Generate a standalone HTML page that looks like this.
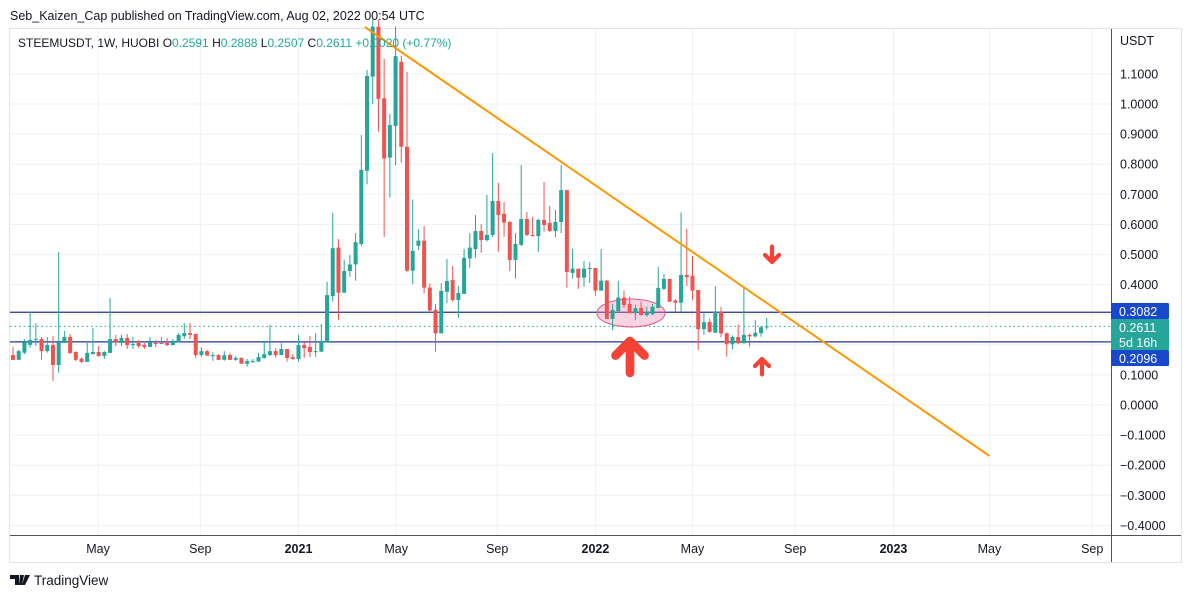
<!DOCTYPE html>
<html><head><meta charset="utf-8">
<style>
body{margin:0;background:#fff;width:1192px;height:598px;overflow:hidden;font-family:"Liberation Sans",sans-serif;}
svg{position:absolute;left:0;top:0;}
</style></head>
<body>
<svg id="chart" width="1192" height="598" xmlns="http://www.w3.org/2000/svg"></svg>
<script>
const opens=[.166,.150,.174,.200,.216,.219,.179,.199,.133,.206,.226,.176,.154,.143,.169,.176,.163,.173,.219,.206,.223,.199,.206,.199,.193,.206,.206,.206,.199,.209,.229,.239,.236,
.166,.179,.164,.166,.150,.166,.150,.156,.137,.144,.144,.156,.166,.179,.166,.186,.159,.153,.199,.193,.177,.177,.209,
.362,.523,.373,.445,.467,.535,.778,1.091,1.257,1.019,.822,.927,1.140,.858,.446,.529,.546,.390,.316,.238,.376,
.415,.349,.369,.487,.518,.578,.548,.565,.678,.635,.608,.482,.532,.618,.565,.561,.615,.605,.578,.608,.714,.439,.453,.423,
.452,.455,.380,.413,.286,.312,.357,.336,.305,.322,.299,.302,.322,.386,.419,.347,.340,.432,.429,.382,.252,.276,.240,.309,.238,.202,.226,.205,.233,.228,.239,.2591];
const highs=[.194,.183,.219,.309,.272,.226,.226,.229,.508,.246,.236,.179,.158,.206,.256,.196,.179,.355,.233,.233,.236,.226,.216,.206,.226,.216,.226,.223,.219,.239,.272,.272,.236,
.192,.183,.175,.169,.179,.173,.162,.159,.153,.153,.173,.213,.266,.189,.205,.186,.169,.233,.208,.229,.239,.269,.409,
.639,.551,.482,.498,.571,.897,1.113,1.28,1.28,1.150,.966,1.257,1.160,1.107,.683,.584,.595,.404,.336,.404,.485,
.462,.395,.519,.571,.631,.601,.698,.837,.738,.674,.611,.571,.797,.641,.625,.618,.741,.661,.648,.797,.714,.519,.453,.479,
.475,.455,.518,.415,.336,.413,.380,.360,.333,.343,.327,.336,.459,.435,.419,.352,.640,.585,.495,.382,.305,.287,.395,.326,.242,.231,.268,.389,.238,.282,.262,.2888];
const lows=[.150,.150,.169,.190,.196,.150,.174,.080,.107,.206,.169,.146,.140,.143,.169,.160,.153,.173,.196,.196,.186,.186,.190,.186,.193,.193,.203,.196,.199,.209,.219,.219,.156,
.160,.164,.147,.150,.147,.150,.147,.137,.127,.140,.144,.154,.163,.157,.166,.144,.150,.144,.157,.160,.160,.177,.209,
.343,.282,.373,.426,.413,.528,.733,1.0,.908,.558,.689,.796,.805,.441,.401,.515,.371,.305,.177,.238,.338,
.343,.290,.369,.456,.489,.506,.543,.558,.509,.559,.445,.420,.528,.561,.561,.509,.576,.575,.558,.571,.390,.420,.386,.393,
.406,.363,.380,.286,.249,.310,.322,.305,.282,.297,.293,.299,.322,.382,.343,.310,.310,.395,.349,.183,.233,.240,.240,.225,.161,.185,.203,.205,.194,.225,.227,.2507];
const closes=[.150,.179,.209,.216,.219,.179,.199,.133,.209,.226,.173,.150,.143,.173,.176,.163,.176,.219,.209,.223,.199,.203,.196,.193,.209,.204,.204,.199,.213,.233,.239,.233,.166,
.179,.164,.166,.150,.165,.150,.156,.137,.146,.146,.159,.169,.179,.166,.186,.156,.153,.199,.189,.176,.179,.213,.365,
.521,.373,.445,.467,.541,.781,1.093,1.257,1.017,.819,.930,1.159,.858,.446,.512,.546,.390,.314,.238,.379,.412,
.349,.372,.489,.523,.578,.548,.565,.678,.631,.606,.482,.535,.618,.565,.561,.615,.598,.578,.608,.714,.442,.453,.423,.453,
.455,.380,.413,.286,.316,.357,.332,.305,.322,.299,.308,.326,.389,.419,.343,.340,.432,.425,.380,.252,.275,.243,.309,.238,.202,.226,.205,.233,.228,.240,.258,.2611];
const yTicks=[1.1,1.0,0.9,0.8,0.7,0.6,0.5,0.4,0.3,0.2,0.1,0.0,-0.1,-0.2,-0.3,-0.4];
const xTickLabels=["May","Sep","2021","May","Sep","2022","May","Sep","2023","May","Sep"];
const xTickWeeks=[14.9,32.8,50.0,67.1,84.8,102.0,119.0,137.0,154.2,171.0,189.0];
const trendWeeks=[61.6,171];
const trendValues=[1.256,-0.169];
const levelValues=[0.3082,0.2096];
const lastPrice=0.2611;

const NS="http://www.w3.org/2000/svg";
const svg=document.getElementById('chart');
const X=i=>13+i*5.71;
const Y=v=>405-v*301;
function mk(tag,attrs,parent){const e=document.createElementNS(NS,tag);for(const k in attrs)e.setAttribute(k,attrs[k]);(parent||svg).appendChild(e);return e;}

let fr=mk('rect',{x:9.5,y:28.5,width:1172,height:534,fill:'none',stroke:'#e0e3eb'});


const grid=mk('g',{});


yTicks.forEach(v=>{mk('line',{x1:10,x2:1111,y1:Y(v),y2:Y(v),stroke:'#eef1f6'},grid);});
xTickWeeks.forEach(w=>{mk('line',{x1:X(w),x2:X(w),y1:29,y2:535,stroke:'#eef1f6'},grid);});
mk('line',{x1:1111.5,x2:1111.5,y1:29,y2:562,stroke:'#50535e'});
mk('line',{x1:10,x2:1181,y1:535.5,y2:535.5,stroke:'#50535e'});
yTicks.forEach(v=>{
  const t=mk('text',{x:1120,y:Y(v)+4.5,'font-size':12.5,fill:'#131722'});
  t.textContent=(v<0?'\u2212':'')+Math.abs(v).toFixed(4);
  
  
});
let ut=mk('text',{x:1120,y:45,'font-size':12.5,fill:'#131722'});ut.textContent='USDT';


xTickLabels.forEach((l,i)=>{
  const bold=/^\d/.test(l);
  const t=mk('text',{x:X(xTickWeeks[i]),y:553,'font-size':12.5,'text-anchor':'middle',fill:'#131722','font-weight':bold?'bold':'normal'});
  t.textContent=l;
  
  
});
levelValues.forEach(v=>{
  const l=mk('line',{x1:10,x2:1111,y1:Y(v),y2:Y(v),stroke:'#23358f','stroke-width':1.3});
  
  
});
let lp=mk('line',{x1:10,x2:1111,y1:Y(lastPrice),y2:Y(lastPrice),stroke:'#26a69a','stroke-dasharray':'1.5 3'});


let el=mk('ellipse',{cx:631,cy:313,rx:34,ry:14,fill:'rgba(242,128,170,0.35)',stroke:'#e25a8c','stroke-width':1});


const cg=mk('g',{});


opens.forEach((o,i)=>{
  const c=closes[i],col=c>=o?'#26a69a':'#ef5350',x=X(i);
  const g=mk('g',{},cg);
  
  
  mk('line',{x1:x,x2:x,y1:Y(highs[i]),y2:Y(lows[i]),stroke:col,'stroke-width':1},g);
  const top=Y(Math.max(o,c)),h=Math.max(1,Math.abs(Y(o)-Y(c)));
  mk('rect',{x:x-2,y:top,width:4,height:h,fill:col},g);
});
let tl=mk('line',{x1:X(trendWeeks[0]),y1:Y(trendValues[0]),x2:X(trendWeeks[1]),y2:Y(trendValues[1]),stroke:'#ff9800','stroke-width':2});


function arrow(cx,tipY,dir,s,name){
  const d=dir;
  const p=`M${cx},${tipY} L${cx-10*s},${tipY+d*10*s} M${cx},${tipY} L${cx+10*s},${tipY+d*10*s} M${cx},${tipY} L${cx},${tipY+d*22*s}`;
  const a=mk('path',{d:p,stroke:'#f44336','stroke-width':6*s,'stroke-linecap':'round','stroke-linejoin':'round',fill:'none'});
  
  
}
arrow(630,341,1,1.45,'big-up-arrow');
arrow(772,262,-1,0.7,'down-arrow');
arrow(762,359,1,0.7,'small-up-arrow');
function plabel(y,h,bg,lines,name){
  const g=mk('g',{});
  
  
  mk('rect',{x:1111,y:y,width:58,height:h,fill:bg,rx:1},g);
  lines.forEach((s,k)=>{const t=mk('text',{x:1119,y:y+13+k*15,'font-size':12.5,fill:'#fff'},g);t.textContent=s;});
}
plabel(303,16,'#1848cc',['0.3082'],'level-price-label-upper');
plabel(319,31,'#26a69a',['0.2611','5d 16h'],'last-price-label');
plabel(350,16,'#1848cc',['0.2096'],'level-price-label-lower');
let hd=mk('text',{x:10,y:20,'font-size':12.5,fill:'#131722'});hd.textContent='Seb_Kaizen_Cap published on TradingView.com, Aug 02, 2022 00:54 UTC';


const lg=mk('text',{x:18,y:47,'font-size':12,fill:'#131722'});


[['STEEMUSDT, 1W, HUOBI ','#131722'],['O','#131722'],['0.2591 ','#26a69a'],['H','#131722'],['0.2888 ','#26a69a'],['L','#131722'],['0.2507 ','#26a69a'],['C','#131722'],['0.2611 +0.0020 (+0.77%)','#26a69a']].forEach(([s,c])=>{const t=mk('tspan',{fill:c},lg);t.textContent=s;});
const lgo=mk('g',{});


mk('path',{d:'M10,575 h9 v10 h-4 v-6 h-5z M20,575 h4 l-2,10 h-3z M25,575 h5 l-5,10 h-3z',fill:'#131722'},lgo);
let lt=mk('text',{x:34,y:585,'font-size':13.5,fill:'#131722'},lgo);lt.textContent='TradingView';
</script>
</body></html>
